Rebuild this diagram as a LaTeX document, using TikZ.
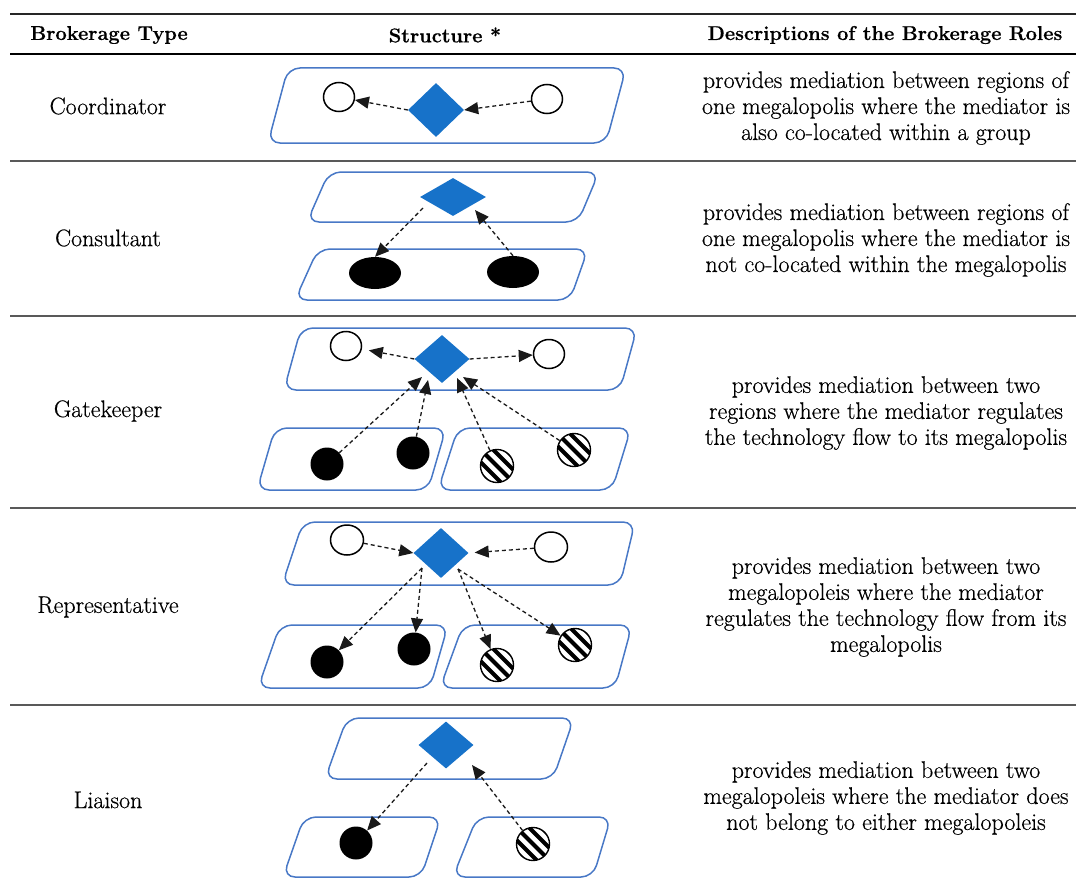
\documentclass[tikz,border=0pt]{standalone}
\usepackage{fontspec}
\setmainfont{Latin Modern Roman}[FakeBold=0.5]
\usetikzlibrary{shapes.geometric,arrows.meta}
\definecolor{dblue}{RGB}{23,114,201}
\definecolor{bblue}{RGB}{72,120,198}
\newcommand\plate[6]{% TLx TRx BRx BLx top bottom
  \draw[box] ({(#1+#2)/2},#5) -- (#2,#5) -- (#3,#6) -- (#4,#6) -- (#1,#5) -- cycle;}
\begin{document}
\begin{tikzpicture}[x=1pt,y=-1pt,
  box/.style={draw=bblue,line width=1.5pt,rounded corners=12pt},
  dia/.style={diamond,fill=dblue,inner sep=0pt},
  opencirc/.style={ellipse,draw=black,line width=1.5pt,inner sep=0pt,fill=white,minimum width=31pt,minimum height=29pt},
  solidcirc/.style={ellipse,fill=black,inner sep=0pt,minimum width=33pt,minimum height=33pt},
  hatchcirc/.style={circle,draw=black,line width=1.4pt,minimum size=33pt,inner sep=0pt,
    path picture={\foreach \k in {-3,...,3}{\draw[line width=4.2pt,line cap=butt]
      ([xshift={\k*12.5pt-25pt},yshift=25pt]path picture bounding box.center) -- ++(50pt,-50pt);}}},
  arr/.style={-{Triangle[length=14pt,width=12pt]},dash pattern=on 4pt off 3pt,line width=1.3pt,draw=black!90},
  lbl/.style={font=\fontsize{24}{26}\selectfont,align=center,inner sep=0pt},
  hdr/.style={font=\fontsize{20}{24}\selectfont\bfseries,inner sep=0pt},
  rulegray/.style={draw=black!65,line width=1.4pt}
]
\useasboundingbox (0,0) rectangle (1076,891);
% rules
\coordinate (r0l) at (10,14); \coordinate (r0r) at (1076,14);
\coordinate (r1l) at (10,54); \coordinate (r1r) at (1076,54);
\coordinate (r2l) at (10,161); \coordinate (r2r) at (1076,161);
\coordinate (r3l) at (10,316); \coordinate (r3r) at (1076,316);
\coordinate (r4l) at (10,508); \coordinate (r4r) at (1076,508);
\coordinate (r5l) at (10,705); \coordinate (r5r) at (1076,705);
\draw[black!85,line width=2pt] (r0l) -- (r0r);
\draw[black,line width=1.3pt] (r1l) -- (r1r);
\draw[rulegray] (r2l) -- (r2r);
\draw[rulegray] (r3l) -- (r3r);
\draw[rulegray] (r4l) -- (r4r);
\draw[rulegray] (r5l) -- (r5r);
% header
\node[hdr] (h1) at (109,35) {Brokerage Type};
\node[hdr] (h2) at (445,35) {Structure *};
\node[hdr] (h3) at (885,35) {Descriptions of the Brokerage Roles};
% column 1
\node[lbl] (t1) at (108,106) {Coordinator};
\node[lbl] (t2) at (108,238) {Consultant};
\node[lbl] (t3) at (108,411) {Gatekeeper};
\node[lbl] (t4) at (108,607) {Representative};
\node[lbl] (t5) at (108,800) {Liaison};
% descriptions
\node[lbl] (p1) at (886,108) {provides mediation between regions of\\one megalopolis where the mediator is\\also co-located within a group};
\node[lbl] (p2) at (886,240) {provides mediation between regions of\\one megalopolis where the mediator is\\not co-located within the megalopolis};
\node[lbl] (p3) at (886,413) {provides mediation between two\\regions where the mediator regulates\\the technology flow to its megalopolis};
\node[lbl] (p4) at (886,607) {provides mediation between two\\megalopoleis where the mediator\\regulates the technology flow from its\\megalopolis};
\node[lbl] (p5) at (886,798) {provides mediation between two\\megalopoleis where the mediator does\\not belong to either megalopoleis};

% ---------- Row 1: Coordinator
\plate{288}{626}{606}{268}{68}{143}
\node[dia,minimum width=56pt,minimum height=54pt] (d1) at (436,110) {};
\node[opencirc] (c1a) at (339,97) {};
\node[opencirc] (c1b) at (547,99) {};
\draw[arr] (d1.west) -- (c1a);
\draw[arr] (c1b) -- (d1.east);

% ---------- Row 2: Consultant
\plate{329}{599}{578}{307}{172}{222}
\plate{318}{588}{570}{295}{249}{300}
\node[dia,minimum width=66pt,minimum height=38pt] (d2) at (453,197) {};
\node[solidcirc,minimum width=52pt,minimum height=32pt] (e2a) at (375,273) {};
\node[solidcirc,minimum width=52pt,minimum height=32pt] (e2b) at (513,272) {};
\coordinate (s2) at (423,208);
\coordinate (q2) at (475,210);
\draw[arr] (s2) -- (e2a.north);
\draw[arr] (e2b.north) -- (q2);

% ---------- Row 3: Gatekeeper
\plate{301}{637}{620}{284}{328}{390}
\plate{275}{446}{428}{257}{428}{490}
\plate{458}{631}{612}{438}{428}{490}
\node[dia,minimum width=55pt,minimum height=48pt] (d3) at (442,359) {};
\node[opencirc] (c3a) at (346,346) {};
\node[opencirc] (c3b) at (549,354) {};
\node[solidcirc] (b3a) at (327,464) {};
\node[solidcirc] (b3b) at (413,453) {};
\node[hatchcirc] (k3a) at (497,466) {};
\node[hatchcirc] (k3b) at (574,450) {};
\coordinate (q3a) at (422,377);
\coordinate (q3b) at (428,380);
\coordinate (q3c) at (457,378);
\coordinate (q3d) at (463,377);
\draw[arr,shorten >=7pt] (d3.west) -- (c3a);
\draw[arr] (d3.east) -- (c3b);
\draw[arr] (b3a) -- (q3a);
\draw[arr] (b3b) -- (q3b);
\draw[arr] (k3a) -- (q3c);
\draw[arr] (k3b) -- (q3d);

% ---------- Row 4: Representative
\plate{303}{635}{620}{282}{522}{585}
\plate{280}{448}{430}{258}{625}{688}
\plate{463}{632}{615}{440}{625}{688}
\node[dia,minimum width=55pt,minimum height=50pt] (d4) at (441,553) {};
\node[opencirc,minimum width=33pt,minimum height=30pt] (c4a) at (347,540) {};
\node[opencirc,minimum width=33pt,minimum height=30pt] (c4b) at (551,547) {};
\node[solidcirc] (b4a) at (327,662) {};
\node[solidcirc] (b4b) at (414,649) {};
\node[hatchcirc] (k4a) at (497,665) {};
\node[hatchcirc] (k4b) at (575,645) {};
\coordinate (s4a) at (422,568);
\coordinate (s4b) at (458,569);
\draw[arr] (c4a) -- (d4.west);
\draw[arr,shorten >=6pt] (c4b) -- (d4.east);
\draw[arr] (s4a) -- (b4a);
\draw[arr] (s4a) -- (b4b);
\draw[arr] (s4b) -- (k4a);
\draw[arr] (s4b) -- (k4b);

% ---------- Row 5: Liaison
\plate{347}{574}{553}{325}{718}{779}
\plate{304}{441}{421}{283}{817}{877}
\plate{477}{611}{593}{453}{817}{877}
\node[dia,minimum width=55pt,minimum height=47pt] (d5) at (446,745) {};
\node[solidcirc] (b5) at (356,843) {};
\node[hatchcirc] (k5) at (533,844) {};
\coordinate (s5) at (427,763);
\coordinate (q5) at (472,765);
\draw[arr] (s5) -- (b5);
\draw[arr] (k5) -- (q5);
\end{tikzpicture}
\end{document}
